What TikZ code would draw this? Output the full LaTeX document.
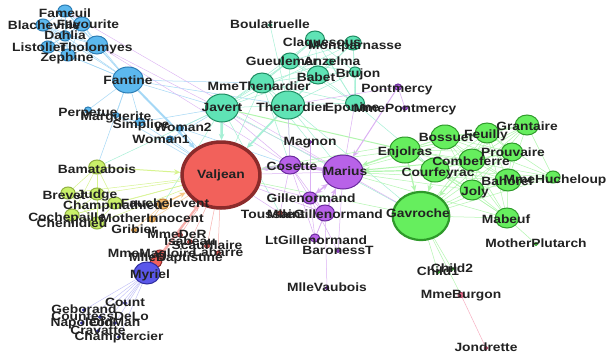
\documentclass[tikz,border=0pt]{standalone}
\usepackage{fontspec}
\setmainfont{Liberation Sans}[FakeStretch=1.15]
\usetikzlibrary{shapes.geometric,arrows.meta}
\pgfdeclarelayer{bg}\pgfdeclarelayer{fg}\pgfsetlayers{bg,main,fg}
\definecolor{bluef}{HTML}{5CB8EE}\definecolor{blued}{HTML}{2B7DB5}
\definecolor{tealf}{HTML}{5FE3B5}\definecolor{teald}{HTML}{1E8C62}
\definecolor{redf}{HTML}{F2615B}\definecolor{redd}{HTML}{8C2B2B}
\definecolor{purf}{HTML}{B862E8}\definecolor{purd}{HTML}{6B2A9E}
\definecolor{grnf}{HTML}{66EE5E}\definecolor{grnd}{HTML}{2E9A2A}
\definecolor{ylwf}{HTML}{C9F06A}\definecolor{ylwd}{HTML}{8FB040}
\definecolor{myrf}{HTML}{5A57EA}\definecolor{myrd}{HTML}{2D2C9E}
\definecolor{orgf}{HTML}{F5BB6A}\definecolor{orgd}{HTML}{C08030}
\definecolor{pinkf}{HTML}{F07090}\definecolor{pinkd}{HTML}{B04060}
\definecolor{txt}{HTML}{222222}
\tikzset{
  vtx/.style={ellipse, inner sep=0pt, fill=#1f, draw=#1d, line width=1pt},
  rad/.style={minimum height={2*#1pt}, minimum width={2.36*#1pt}},
  lab/.style={font=\bfseries\fontsize{12}{13}\selectfont, text=txt, inner sep=0pt, text height=1.5ex, text depth=.25ex},
  eblue/.style={draw=bluef!55!white, line width=0.5pt},
  eteal/.style={draw=tealf!55!white, line width=0.5pt},
  epur/.style={draw=purf!50!white, line width=0.5pt},
  egrn/.style={draw=grnf!50!white, line width=0.5pt},
  eylw/.style={draw=ylwf!75!white, line width=0.5pt},
  ered/.style={draw=redf!50!white, line width=0.5pt},
  emyr/.style={draw=myrf!40!white, line width=0.4pt},
  epink/.style={draw=pinkf!55!white, line width=0.5pt},
  arr/.style={-{Stealth[length=6.5pt,width=5.5pt]}},
}
\newcommand\gn[8]{\node[vtx=#5, rad=#4] (#1) at (#2,#3) {};
  \begin{pgfonlayer}{fg}\node[lab] (t#1) at (#7,#8) {#6};\end{pgfonlayer}}
\begin{document}
\begin{tikzpicture}[x=1pt,y=-1pt]
\useasboundingbox (0,0) rectangle (609,356);
% Fantine cluster
\gn{fameuil}{65}{11}{6}{blue}{Fameuil}{65}{14}
\gn{blacheville}{43}{25}{6}{blue}{Blacheville}{44}{26}
\gn{favourite}{82}{24}{7}{blue}{Favourite}{88}{25}
\gn{dahlia}{65}{36}{5}{blue}{Dahlia}{65}{36}
\gn{listolier}{48}{47}{6}{blue}{Listolier}{39}{48}
\gn{tholomyes}{97}{45}{9}{blue}{Tholomyes}{96}{48}
\gn{zephine}{68}{55}{6}{blue}{Zephine}{67}{58}
\gn{fantine}{128}{80}{13}{blue}{Fantine}{128}{81}
\gn{perpetue}{88}{110}{3}{blue}{Perpetue}{88}{113}
\gn{marguerite}{116}{115}{2.5}{blue}{Marguerite}{116}{117}
\gn{simplice}{140}{122}{4}{blue}{Simplice}{141}{125}
\gn{woman2}{180}{128}{3}{blue}{Woman2}{183}{128}
\gn{woman1}{170}{139}{3}{blue}{Woman1}{161}{140}
% Thenardier cluster
\gn{boulatruelle}{270}{25}{1.5}{teal}{Boulatruelle}{270}{25}
\gn{claquesous}{315}{39}{8}{teal}{Claquesous}{322}{43}
\gn{montparnasse}{353}{43}{7}{teal}{Montparnasse}{355}{46}
\gn{gueulemer}{290}{61}{8}{teal}{Gueulemer}{282}{62}
\gn{anzelma}{330}{62}{3}{teal}{Anzelma}{332}{62}
\gn{babet}{318}{75}{9}{teal}{Babet}{316}{78}
\gn{brujon}{355}{72}{5}{teal}{Brujon}{358}{74}
\gn{mmethenardier}{262}{83}{10}{teal}{MmeThenardier}{259}{87}
\gn{javert}{222}{108}{14}{teal}{Javert}{222}{108}
\gn{thenardier}{288}{105}{14}{teal}{Thenardier}{292}{108}
\gn{eponine}{355}{103}{8}{teal}{Eponine}{352}{108}
% purple
\gn{pontmercy}{398}{87}{3}{pur}{Pontmercy}{397}{89}
\gn{mmepontmercy}{405}{108}{2}{pur}{MmePontmercy}{405}{109}
\gn{magnon}{310}{142}{1.5}{pur}{Magnon}{310}{142}
\gn{cosette}{290}{165}{9}{pur}{Cosette}{292}{167}
\gn{marius}{343}{172}{17}{pur}{Marius}{345}{172}
\gn{gillenormand}{310}{198}{6}{pur}{Gillenormand}{311}{199}
\gn{toussaint}{280}{213}{2}{red}{Toussaint}{273}{215}
\gn{mllegillenormand}{325}{213}{8}{pur}{MlleGillenormand}{325}{215}
\gn{ltgillenormand}{315}{238}{4}{pur}{LtGillenormand}{316}{241}
\gn{baronesst}{338}{251}{1.5}{pur}{BaronessT}{338}{251}
\gn{mllevaubois}{327}{288}{1.5}{pur}{MlleVaubois}{327}{288}
% Valjean
\node[vtx=red, rad=33, line width=3.5pt] (valjean) at (221,175) {};
\begin{pgfonlayer}{fg}\node[lab] (tvaljean) at (221,175) {Valjean};\end{pgfonlayer}
% green
\gn{enjolras}{405}{150}{13}{grn}{Enjolras}{405}{152}
\gn{bossuet}{445}{137}{12}{grn}{Bossuet}{446}{138}
\gn{feuilly}{487}{133}{10}{grn}{Feuilly}{486}{135}
\gn{grantaire}{527}{125}{10}{grn}{Grantaire}{527}{127}
\gn{prouvaire}{512}{152}{9}{grn}{Prouvaire}{513}{153}
\gn{combeferre}{472}{160}{11}{grn}{Combeferre}{471}{162}
\gn{courfeyrac}{435}{170}{12}{grn}{Courfeyrac}{438}{173}
\gn{bahorel}{508}{180}{11}{grn}{Bahorel}{507}{182}
\gn{mmehucheloup}{553}{177}{6}{grn}{MmeHucheloup}{555}{180}
\gn{joly}{472}{190}{10}{grn}{Joly}{475}{192}
\node[vtx=grn, rad=24, line width=2.2pt] (gavroche) at (421,216) {};
\begin{pgfonlayer}{fg}\node[lab] (tgavroche) at (418,214) {Gavroche};\end{pgfonlayer}
\gn{mabeuf}{507}{218}{10}{grn}{Mabeuf}{506}{220}
\gn{motherplutarch}{536}{244}{1.5}{grn}{MotherPlutarch}{536}{244}
\gn{child1}{438}{272}{1.5}{grn}{Child1}{438}{272}
\gn{child2}{452}{269}{1.5}{grn}{Child2}{452}{269}
\gn{mmeburgon}{461}{295}{2.5}{pink}{MmeBurgon}{461}{295}
\gn{jondrette}{486}{348}{1.5}{pink}{Jondrette}{486}{348}
% yellow-green
\gn{bamatabois}{97}{167}{7}{ylw}{Bamatabois}{97}{170}
\gn{brevet}{68}{193}{6}{ylw}{Brevet}{64}{196}
\gn{judge}{97}{194}{6}{ylw}{Judge}{97}{195}
\gn{champmathieu}{115}{203}{6}{ylw}{Champmathieu}{113}{206}
\gn{cochepaille}{72}{215}{6}{ylw}{Cochepaille}{67}{218}
\gn{chenildieu}{97}{223}{6}{ylw}{Chenildieu}{72}{224}
\gn{fauchelevent}{163}{204}{5}{org}{Fauchelevent}{165}{204}
\gn{motherinnocent}{152}{219}{3}{org}{MotherInnocent}{152}{219}
\gn{gribier}{134}{230}{2}{org}{Gribier}{134}{230}
% Myriel group
\gn{mmeder}{180}{235}{2}{red}{MmeDeR}{177}{235}
\gn{isabeau}{190}{242}{2}{red}{Isabeau}{190}{242}
\gn{scaufflaire}{207}{246}{2}{red}{Scaufflaire}{207}{246}
\gn{labarre}{218}{253}{2}{red}{Labarre}{218}{253}
\gn{mmemagloire}{160}{255}{5}{red}{MmeMagloire}{152}{254}
\gn{mllebaptistine}{156}{262}{5}{red}{MlleBaptistine}{176}{258}
\gn{myriel}{147}{273}{11}{myr}{Myriel}{150}{275}
\gn{count}{125}{303}{1.2}{myr}{Count}{125}{303}
\gn{geborand}{84}{310}{1.2}{myr}{Geborand}{84}{310}
\gn{countessdelo}{100}{317}{1.2}{myr}{CountessDeLo}{100}{317}
\gn{napoleon}{82}{323}{1.2}{myr}{Napoleon}{82}{323}
\gn{oldman}{115}{323}{1.2}{myr}{OldMan}{115}{323}
\gn{cravatte}{98}{331}{1.2}{myr}{Cravatte}{98}{331}
\gn{champtercier}{119}{337}{1.2}{myr}{Champtercier}{119}{337}
\begin{pgfonlayer}{bg}
\fill[white] (0,0) rectangle (609,356);
\foreach \a/\b in {tholomyes/fameuil, tholomyes/blacheville, tholomyes/favourite, tholomyes/dahlia, tholomyes/listolier, tholomyes/zephine, fameuil/blacheville, fameuil/favourite, fameuil/dahlia, fameuil/listolier, fameuil/zephine, blacheville/favourite, blacheville/dahlia, blacheville/listolier, blacheville/zephine, favourite/dahlia, favourite/listolier, favourite/zephine, dahlia/listolier, dahlia/zephine, listolier/zephine, fantine/tholomyes, fantine/fameuil, fantine/blacheville, fantine/favourite, fantine/dahlia, fantine/listolier, fantine/zephine, fantine/marguerite, fantine/perpetue, fantine/simplice, fantine/javert, fantine/thenardier, fantine/mmethenardier, fantine/bamatabois, simplice/perpetue, simplice/valjean, simplice/javert, marguerite/valjean, woman1/valjean, woman1/javert, woman2/valjean, woman2/cosette, woman2/javert}
  \draw[eblue] (\a) -- (\b);
\draw[eblue, line width=2pt, arr] (fantine) -- (valjean);
\foreach \a/\b in {tholomyes/marius, tholomyes/cosette, fameuil/marius}
  \draw[epur, line width=0.4pt] (\a) -- (\b);
\foreach \a/\b in {mmethenardier/valjean, mmethenardier/thenardier, mmethenardier/cosette, mmethenardier/javert, mmethenardier/eponine, mmethenardier/anzelma, mmethenardier/babet, mmethenardier/gueulemer, mmethenardier/magnon, mmethenardier/claquesous, thenardier/javert, thenardier/cosette, thenardier/gueulemer, thenardier/babet, thenardier/claquesous, thenardier/montparnasse, thenardier/brujon, thenardier/boulatruelle, thenardier/anzelma, thenardier/eponine, thenardier/marius, thenardier/gavroche, javert/gueulemer, javert/babet, javert/claquesous, javert/montparnasse, javert/gavroche, javert/bamatabois, javert/fauchelevent, javert/toussaint, gueulemer/babet, gueulemer/claquesous, gueulemer/montparnasse, gueulemer/brujon, babet/claquesous, babet/montparnasse, babet/brujon, claquesous/montparnasse, claquesous/brujon, claquesous/eponine, montparnasse/brujon, montparnasse/eponine, eponine/anzelma, eponine/brujon, eponine/gueulemer, eponine/babet, eponine/courfeyrac}
  \draw[eteal] (\a) -- (\b);
\draw[eteal, line width=2.6pt, arr] (javert) -- (valjean);
\draw[eteal, line width=1.8pt, arr] (thenardier) -- (valjean);
\draw[egrn, line width=1pt] (javert) -- (enjolras);
\foreach \a/\b in {marius/valjean, gillenormand/cosette, gillenormand/valjean, mllegillenormand/gillenormand, mllegillenormand/cosette, mllegillenormand/valjean, mllegillenormand/mllevaubois, mllegillenormand/ltgillenormand, ltgillenormand/gillenormand, ltgillenormand/cosette, ltgillenormand/marius, baronesst/gillenormand, baronesst/marius, magnon/gillenormand, pontmercy/mmepontmercy, pontmercy/thenardier, cosette/javert, cosette/thenardier, cosette/toussaint, toussaint/valjean, marius/eponine, marius/gavroche}
  \draw[epur] (\a) -- (\b);
\draw[epur, line width=1pt, arr] (pontmercy) -- (marius);
\draw[epur, line width=1.2pt, arr] (mllegillenormand) -- (marius);
\draw[epur, line width=1.4pt, arr] (gillenormand) -- (marius);
\draw[epur, line width=1.2pt, arr] (marius) -- (gillenormand);
\draw[epur, line width=3.2pt, arr] (marius) -- (cosette);
\draw[epur, line width=3.2pt, arr] (cosette) -- (valjean);
\foreach \a/\b in {enjolras/combeferre, enjolras/courfeyrac, enjolras/bossuet, enjolras/feuilly, enjolras/prouvaire, enjolras/bahorel, enjolras/joly, enjolras/grantaire, enjolras/mabeuf, enjolras/mmehucheloup, enjolras/valjean, combeferre/courfeyrac, combeferre/bossuet, combeferre/feuilly, combeferre/prouvaire, combeferre/bahorel, combeferre/joly, combeferre/grantaire, combeferre/mabeuf, courfeyrac/bossuet, courfeyrac/feuilly, courfeyrac/prouvaire, courfeyrac/bahorel, courfeyrac/joly, courfeyrac/grantaire, courfeyrac/mabeuf, courfeyrac/mmehucheloup, bossuet/feuilly, bossuet/prouvaire, bossuet/bahorel, bossuet/joly, bossuet/grantaire, bossuet/mabeuf, bossuet/mmehucheloup, bossuet/valjean, feuilly/prouvaire, feuilly/bahorel, feuilly/joly, feuilly/grantaire, feuilly/mabeuf, feuilly/mmehucheloup, prouvaire/bahorel, bahorel/joly, bahorel/grantaire, bahorel/mabeuf, bahorel/mmehucheloup, joly/grantaire, joly/mabeuf, joly/mmehucheloup, grantaire/mmehucheloup, gavroche/bossuet, gavroche/feuilly, gavroche/prouvaire, gavroche/bahorel, gavroche/joly, gavroche/grantaire, gavroche/mabeuf, gavroche/mmehucheloup, gavroche/child1, gavroche/child2, gavroche/mmeburgon, gavroche/valjean, mabeuf/motherplutarch, child1/child2, marius/mabeuf, marius/bahorel, marius/bossuet, marius/joly, marius/feuilly}
  \draw[egrn] (\a) -- (\b);
\draw[egrn, line width=1.3pt, arr] (enjolras) -- (gavroche);
\draw[egrn, line width=1.3pt, arr] (courfeyrac) -- (gavroche);
\draw[egrn, line width=1.1pt, arr] (combeferre) -- (gavroche);
\draw[egrn, line width=1.2pt, arr] (enjolras) -- (marius);
\draw[egrn, line width=1.2pt, arr] (courfeyrac) -- (marius);
\draw[egrn, line width=1pt, arr] (combeferre) -- (marius);
\draw[epink] (mmeburgon) -- (jondrette);
\foreach \a/\b in {bamatabois/judge, bamatabois/champmathieu, bamatabois/brevet, bamatabois/chenildieu, bamatabois/cochepaille, judge/champmathieu, judge/brevet, judge/chenildieu, judge/cochepaille, judge/valjean, champmathieu/brevet, champmathieu/chenildieu, champmathieu/cochepaille, champmathieu/valjean, brevet/chenildieu, brevet/cochepaille, brevet/valjean, chenildieu/cochepaille, chenildieu/valjean, cochepaille/valjean}
  \draw[eylw] (\a) -- (\b);
\draw[eylw, line width=1pt, arr] (bamatabois) -- (valjean);
\draw[draw=orgf!80!white, line width=1.2pt, arr] (fauchelevent) -- (valjean);
\foreach \a/\b in {motherinnocent/fauchelevent, motherinnocent/valjean, gribier/fauchelevent}
  \draw[draw=orgf!70!white, line width=0.5pt] (\a) -- (\b);
\foreach \a/\b in {mmeder/valjean, isabeau/valjean, scaufflaire/valjean, labarre/valjean, mllebaptistine/mmemagloire, myriel/mllebaptistine, myriel/mmemagloire}
  \draw[ered] (\a) -- (\b);
\draw[ered, line width=1.6pt, arr] (mllebaptistine) -- (valjean);
\draw[ered, line width=1.6pt, arr] (mmemagloire) -- (valjean);
\draw[ered, line width=1pt] (myriel) -- (valjean);
\foreach \b in {napoleon, countessdelo, geborand, champtercier, cravatte, count, oldman}
  \draw[emyr] (myriel) -- (\b);
\end{pgfonlayer}
\end{tikzpicture}
\end{document}
